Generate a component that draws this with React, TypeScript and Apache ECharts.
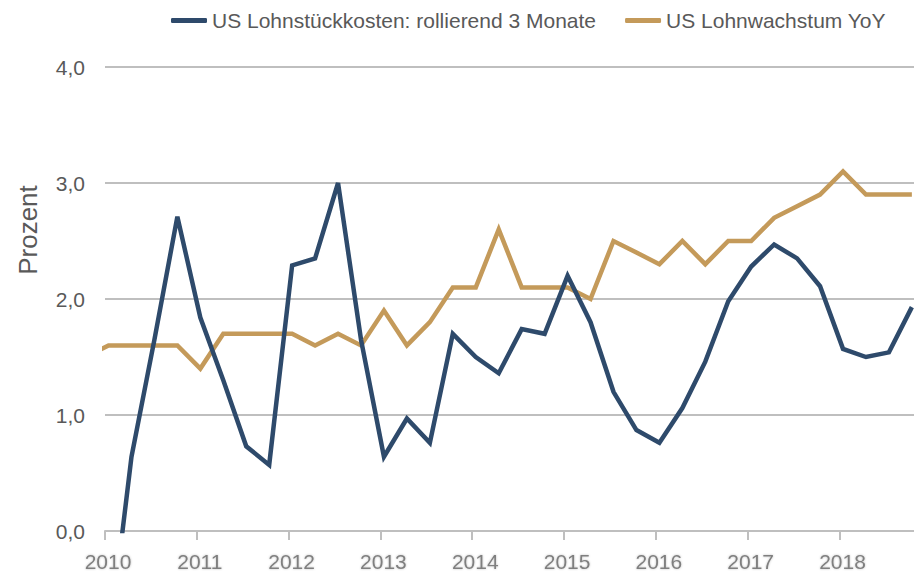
import React, { useEffect, useRef } from "react";
import * as echarts from "echarts";

// Quarterly observation dates (first one lies before the axis start and is clipped)
const dates: string[] = [
  "2009-10-15",
  "2010-01-15", "2010-04-15", "2010-07-15", "2010-10-15",
  "2011-01-15", "2011-04-15", "2011-07-15", "2011-10-15",
  "2012-01-15", "2012-04-15", "2012-07-15", "2012-10-15",
  "2013-01-15", "2013-04-15", "2013-07-15", "2013-10-15",
  "2014-01-15", "2014-04-15", "2014-07-15", "2014-10-15",
  "2015-01-15", "2015-04-15", "2015-07-15", "2015-10-15",
  "2016-01-15", "2016-04-15", "2016-07-15", "2016-10-15",
  "2017-01-15", "2017-04-15", "2017-07-15", "2017-10-15",
  "2018-01-15", "2018-04-15", "2018-07-15", "2018-10-15",
];

const axisStart = "2010-01-01";
const axisEnd = "2018-11-01";
const yearTicks: number[] = [2010, 2011, 2012, 2013, 2014, 2015, 2016, 2017, 2018];

const seriesNames = [
  "US Lohnstückkosten: rollierend 3 Monate",
  "US Lohnwachstum YoY",
];

// US Lohnstückkosten (null = not available before 2010)
const unitLaborCost: (number | null)[] = [
  null,
  -1.0, 0.64, 1.65, 2.71,
  1.84, 1.3, 0.73, 0.57,
  2.29, 2.35, 3.0, 1.65,
  0.64, 0.97, 0.76, 1.7,
  1.5, 1.36, 1.74, 1.7,
  2.2, 1.8, 1.2, 0.87,
  0.76, 1.06, 1.46, 1.98,
  2.28, 2.47, 2.35, 2.11,
  1.57, 1.5, 1.54, 1.93,
];

// US Lohnwachstum YoY
const wageGrowth: number[] = [
  1.5,
  1.6, 1.6, 1.6, 1.6,
  1.4, 1.7, 1.7, 1.7,
  1.7, 1.6, 1.7, 1.6,
  1.9, 1.6, 1.8, 2.1,
  2.1, 2.6, 2.1, 2.1,
  2.1, 2.0, 2.5, 2.4,
  2.3, 2.5, 2.3, 2.5,
  2.5, 2.7, 2.8, 2.9,
  3.1, 2.9, 2.9, 2.9,
];

const yearFrac = (s: string): number => {
  const [y, m, d] = s.split("-").map(Number);
  return y + (m - 1) / 12 + (d - 1) / 365;
};

const FONT = '"Liberation Sans", Arial, sans-serif';

export default function App() {
  const ref = useRef<HTMLDivElement>(null);

  useEffect(() => {
    if (!ref.current) return;
    const chart = echarts.init(ref.current, null, { renderer: "svg" });
    const xs = dates.map(yearFrac);
    const blueData = xs.map((x, i) => [x, unitLaborCost[i]]);
    const orangeData = xs.map((x, i) => [x, wageGrowth[i]]);

    chart.setOption({
      animation: false,
      backgroundColor: "#ffffff",
      grid: { left: 105, right: 6, top: 67, bottom: 48, containLabel: false },
      legend: {
        left: 166,
        top: 5,
        itemWidth: 36,
        itemHeight: 5,
        itemGap: 29,
        icon: "roundRect",
        textStyle: { fontFamily: FONT, fontSize: 21, color: "#595959" },
        data: seriesNames,
      },
      graphic: [
        {
          type: "text",
          x: 28,
          y: 230,
          rotation: Math.PI / 2,
          style: {
            text: "Prozent",
            fontFamily: FONT,
            fontSize: 26,
            fill: "#595959",
            align: "center",
            verticalAlign: "middle",
          },
        },
      ],
      xAxis: {
        type: "value",
        min: yearFrac(axisStart),
        max: yearFrac(axisEnd),
        interval: 1,
        splitLine: { show: false },
        axisLine: { show: true, lineStyle: { color: "#bfbfbf", width: 2 } },
        axisTick: {
          show: true,
          length: 9,
          customValues: yearTicks,
          lineStyle: { color: "#bfbfbf", width: 2 },
        },
        axisLabel: {
          customValues: yearTicks,
          formatter: (v: number) => String(Math.round(v)),
          fontFamily: FONT,
          fontSize: 21,
          color: "#7f7f7f",
          margin: 20,
          textShadowColor: "rgba(0,0,0,0.25)",
          textShadowBlur: 2,
          padding: [0, 0, 0, 6],
        },
      },
      yAxis: {
        type: "value",
        min: 0,
        max: 4,
        interval: 1,
        axisLine: { show: false },
        axisTick: { show: false },
        splitLine: { show: true, lineStyle: { color: "#bfbfbf", width: 2 } },
        axisLabel: {
          formatter: (v: number) => v.toFixed(1).replace(".", ","),
          fontFamily: FONT,
          fontSize: 21,
          color: "#595959",
          margin: 20,
        },
      },
      series: [
        {
          name: seriesNames[0],
          type: "line",
          data: blueData,
          showSymbol: false,
          clip: true,
          connectNulls: false,
          color: "#2E4A6B",
          lineStyle: { color: "#2E4A6B", width: 4.5, join: "miter" },
          z: 3,
        },
        {
          name: seriesNames[1],
          type: "line",
          data: orangeData,
          showSymbol: false,
          clip: true,
          color: "#C49A5A",
          lineStyle: { color: "#C49A5A", width: 4.5, join: "miter" },
          z: 2,
        },
      ],
    });
    return () => chart.dispose();
  }, []);

  return <div ref={ref} style={{ width: 922, height: 579, margin: -8 }} />;
}
